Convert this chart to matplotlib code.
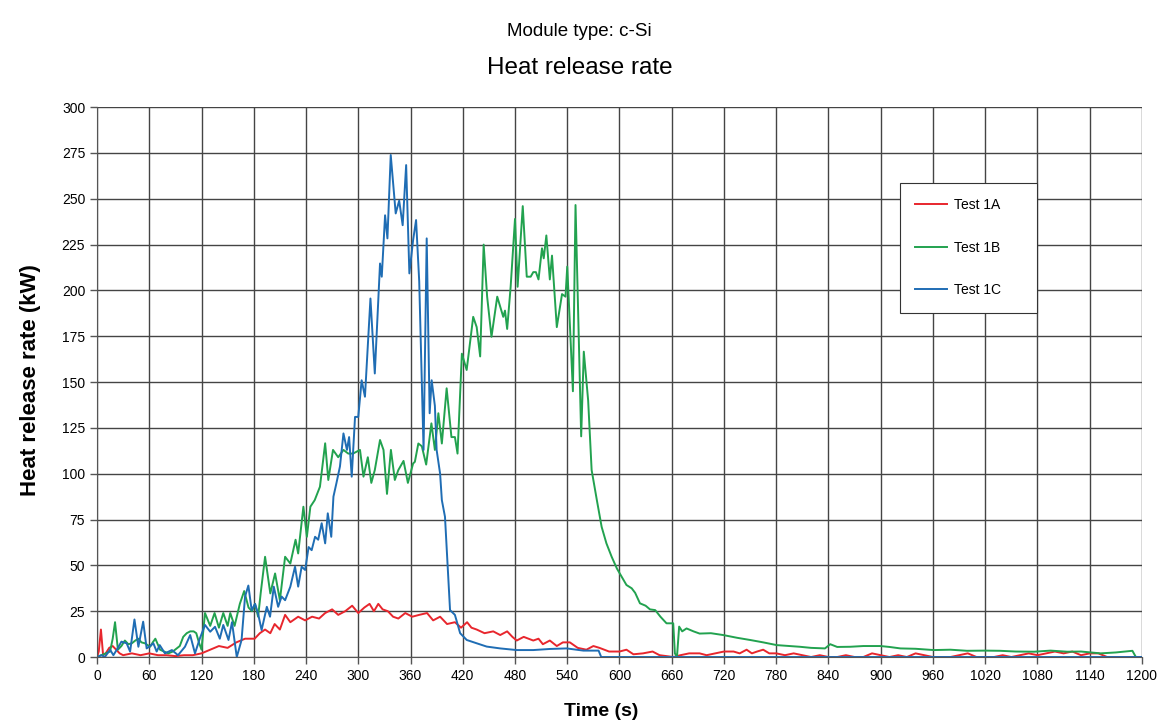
import matplotlib
matplotlib.use("Agg")
import matplotlib.pyplot as plt

plt.rcParams['font.family'] = ['Liberation Sans', 'DejaVu Sans']

# Test 1A (red)
t_1a = [0, 2, 4.5, 7, 10, 14, 18, 22, 26, 30, 40, 50, 60, 70, 80, 90, 100, 110, 120, 130,
        140, 150, 160, 170, 181, 187, 193, 199, 204, 210, 216, 222, 231, 239, 247, 255, 262, 270, 277, 285,
        293, 300, 307, 313, 318, 323, 328, 334, 340, 346, 354, 362, 370, 379, 386, 394, 402, 411, 418, 425,
        430, 436, 445, 455, 463, 471, 477, 482, 490, 501, 507, 512, 520, 528, 535, 543, 552, 562, 570, 577,
        588, 600, 608, 616, 627, 638, 646, 654, 662, 670, 680, 692, 700, 710, 720, 731, 738, 746, 752, 758,
        765, 772, 780, 790, 800, 810, 820, 830, 840, 850, 860, 870, 880, 890, 900, 910, 920, 930, 940, 950,
        960, 970, 980, 990, 1000, 1010, 1020, 1030, 1040, 1050, 1060, 1070, 1080, 1090, 1100, 1110, 1120, 1130, 1140, 1150,
        1160, 1170, 1180, 1190, 1200]
hrr_1a = [0, 3, 15, 1, 2, 5, 6, 4, 2, 1, 2, 1, 2, 1, 1, 0.5, 1, 1, 2, 4,
          6, 5, 8, 10, 10, 13, 15, 13, 18, 15, 23, 19, 22, 20, 22, 21, 24, 26, 23, 25,
          28, 24, 27, 29, 25, 29, 26, 25, 22, 21, 24, 22, 23, 24, 20, 22, 18, 19, 16, 19,
          16, 15, 13, 14, 12, 14, 11, 9, 11, 9, 10, 7, 9, 6, 8, 8, 5, 4, 6, 5,
          3, 3, 4, 1.5, 2, 3, 1, 0.5, 0, 1, 2, 2, 1, 2, 3, 3, 2, 4, 2, 3,
          4, 2, 2, 1, 2, 1, 0, 1, 0, 0, 1, 0, 0, 2, 1, 0, 1, 0, 2, 1,
          0, 0, 0, 1, 2, 0, 0, 0, 1, 0, 1, 2, 1, 2, 3, 2, 3, 1, 2, 2,
          0, 0, 0, 0, 0]

# Test 1B (green)
t_1b = [0, 5, 10, 15, 18, 20.7, 24, 28, 32, 36, 40, 44, 47.5, 51, 55, 61, 64, 67, 72.4, 77,
        82, 87, 91.5, 95, 99, 103, 107, 111, 114, 117, 120, 124, 130, 135, 140, 145, 150, 153, 158, 164,
        169, 174, 178, 181.4, 185, 188, 193, 199, 204.5, 210, 216, 222, 228, 231, 237, 241, 245, 250, 256, 262,
        265.6, 271, 277, 283, 288.5, 294, 302, 306, 311, 315, 319, 325, 329, 333, 337.5, 342, 346, 352, 357, 363,
        365, 369, 373, 378, 384, 388, 392, 396, 401.5, 407, 411, 414, 419, 424.5, 432, 436, 440, 444, 448, 453,
        459.6, 466.5, 468.5, 471, 475, 480, 483, 488.9, 493.5, 498, 501, 504, 507, 511, 513, 516, 520, 522.5, 528, 534,
        538, 540, 546.5, 549.5, 556, 559, 564, 568, 574, 579.5, 585, 591, 597, 602.5, 608, 614, 618, 623.5, 630, 635,
        641, 647, 654, 661.7, 663.6, 666, 668.5, 672, 677, 685, 692, 705, 719, 735, 750, 765, 780.6, 795, 807, 820,
        836, 842, 850, 865, 880, 899.7, 910, 922.6, 940, 961, 980, 999, 1020, 1037, 1055, 1076, 1095, 1114, 1130, 1152.5,
        1170, 1189, 1193]
hrr_1b = [0, 1, 2, 3, 10, 19, 4, 6, 9, 7, 7.5, 9, 10, 8, 7.5, 5.6, 8, 10, 4, 3,
          2, 3, 4.7, 6, 11, 13, 14, 14, 13, 8, 4, 24, 17, 24, 16, 24, 17, 24, 17, 29,
          36, 27, 25, 29, 22, 35, 54.7, 34.7, 45.6, 31, 54.7, 51, 64, 56.5, 82, 65.6, 82, 85.6, 92.9, 116.6,
          96.6, 113, 109, 113, 111, 111, 113, 98.4, 109, 95, 102, 118.4, 113, 89, 113, 96.6, 102, 107, 95, 105.6,
          106.5, 116.5, 115, 105, 127.5, 113, 133, 116.5, 146.6, 120, 120, 111, 165.5, 156.6, 185.6, 180, 164, 225, 196.6, 174.7,
          196.6, 185.6, 189, 179, 202, 239, 202, 246, 207.5, 207.5, 210, 210, 206, 223, 217.5, 230, 206, 219, 180, 198,
          196.6, 213, 145, 246.6, 120.4, 166.6, 140, 102, 85.6, 71, 62, 54.7, 48.3, 43.8, 39.3, 37.5, 35, 29.3, 28, 26,
          25.6, 22, 18.4, 18.4, 2, 0, 16.6, 14, 15.6, 14, 12.8, 13, 12, 10.5, 9.3, 8, 6.5, 6, 5.6, 5,
          4.7, 7, 5.5, 5.6, 6, 6, 5.5, 4.7, 4.5, 3.8, 4, 3.4, 3.5, 3.4, 3, 2.9, 3.5, 2.9, 3, 2,
          2.5, 3.4, 0]

# Test 1C (blue)
t_1c = [0, 5, 9, 15, 18.8, 24, 28, 34, 38, 43, 47.5, 53, 57, 61, 64.7, 68.5, 72, 78, 86, 93,
        101, 107, 112.5, 118, 124, 130, 135.5, 141, 145, 151, 155, 160.5, 166, 170, 173.8, 177.6, 181.5, 185, 189, 195,
        198.7, 203, 208, 212, 216, 222, 227.4, 231, 235, 239, 243, 246.5, 250.4, 254, 258, 262, 265, 269, 271.5, 275,
        279, 283, 287, 289.5, 292.5, 296.3, 300, 303.9, 307.7, 314, 319, 325, 327, 330.8, 333.5, 337.3, 343, 347, 351, 355,
        358.7, 363, 366.4, 370, 375, 378.6, 382, 384.3, 388, 390, 394, 396, 399.6, 405.4, 411, 417, 424.6, 436, 447.5, 463,
        482, 501, 520, 539.4, 558.6, 576, 579, 1200]
hrr_1c = [0, 1, 0, 4, 1, 5, 8.4, 7.5, 3, 20.5, 5.6, 19.3, 4.7, 6, 7.5, 3, 6.5, 2, 3.8, 1,
          5.6, 12, 2, 10, 17.5, 13.8, 16.5, 10, 17.5, 9.3, 19, 0, 9.3, 33, 39, 25.6, 29, 23.6, 14.7, 27.4,
          22, 38.4, 27.4, 33, 31, 38.4, 49.3, 38.4, 49.3, 47.5, 60, 58.3, 65.6, 64, 73, 62, 78.4, 65.6, 87.5, 95,
          104, 122, 113, 120, 98.4, 131, 131, 151, 142, 195.6, 154.7, 214.7, 207.5, 241, 228.4, 273.9, 242, 249, 235.6, 268.4,
          209.3, 227.5, 238.4, 205, 113, 228.4, 133, 151, 137, 113, 100, 85.6, 76.5, 25.6, 23, 13, 9.3, 7.5, 5.7, 4.7,
          3.8, 3.8, 4.4, 4.7, 3.5, 3.5, 0, 0]

fig = plt.figure(figsize=(11.66, 7.24), dpi=100)
ax = fig.add_axes([0.0832, 0.0925, 0.8962, 0.7595])

ax.plot(t_1a, hrr_1a, color='#e8262d', lw=1.4, label='Test 1A')
ax.plot(t_1b, hrr_1b, color='#22a24f', lw=1.4, label='Test 1B')
ax.plot(t_1c, hrr_1c, color='#1f6db4', lw=1.4, label='Test 1C')

ax.set_xlim(0, 1200)
ax.set_ylim(0, 300)
ax.set_xticks(range(0, 1201, 60))
ax.set_yticks(range(0, 301, 25))
ax.tick_params(labelsize=10, length=5, color='#555555', width=1)
ax.grid(True, color='#444444', lw=1.0)
ax.set_axisbelow(True)
for side in ['top', 'right']:
    ax.spines[side].set_visible(False)
for side in ['left', 'bottom']:
    ax.spines[side].set_color('#555555')

leg = ax.legend(loc='upper left', bbox_to_anchor=(0.768, 0.862, 0.132, 0.0), mode='expand',
                borderaxespad=0, fontsize=10, labelspacing=2.05, handlelength=2.3,
                handletextpad=0.5, borderpad=1.1, fancybox=False, framealpha=1,
                edgecolor='#333333')
leg.get_frame().set_linewidth(0.8)

fig.text(0.497, 0.957, 'Module type: c-Si', ha='center', va='center', fontsize=13.5)
fig.text(0.497, 0.906, 'Heat release rate', ha='center', va='center', fontsize=17.5)
fig.text(0.026, 0.475, 'Heat release rate (kW)', ha='center', va='center', rotation=90,
         fontsize=16, fontweight='bold')
fig.text(0.516, 0.017, 'Time (s)', ha='center', va='center', fontsize=14, fontweight='bold')

fig.savefig('out.png', dpi=100)
